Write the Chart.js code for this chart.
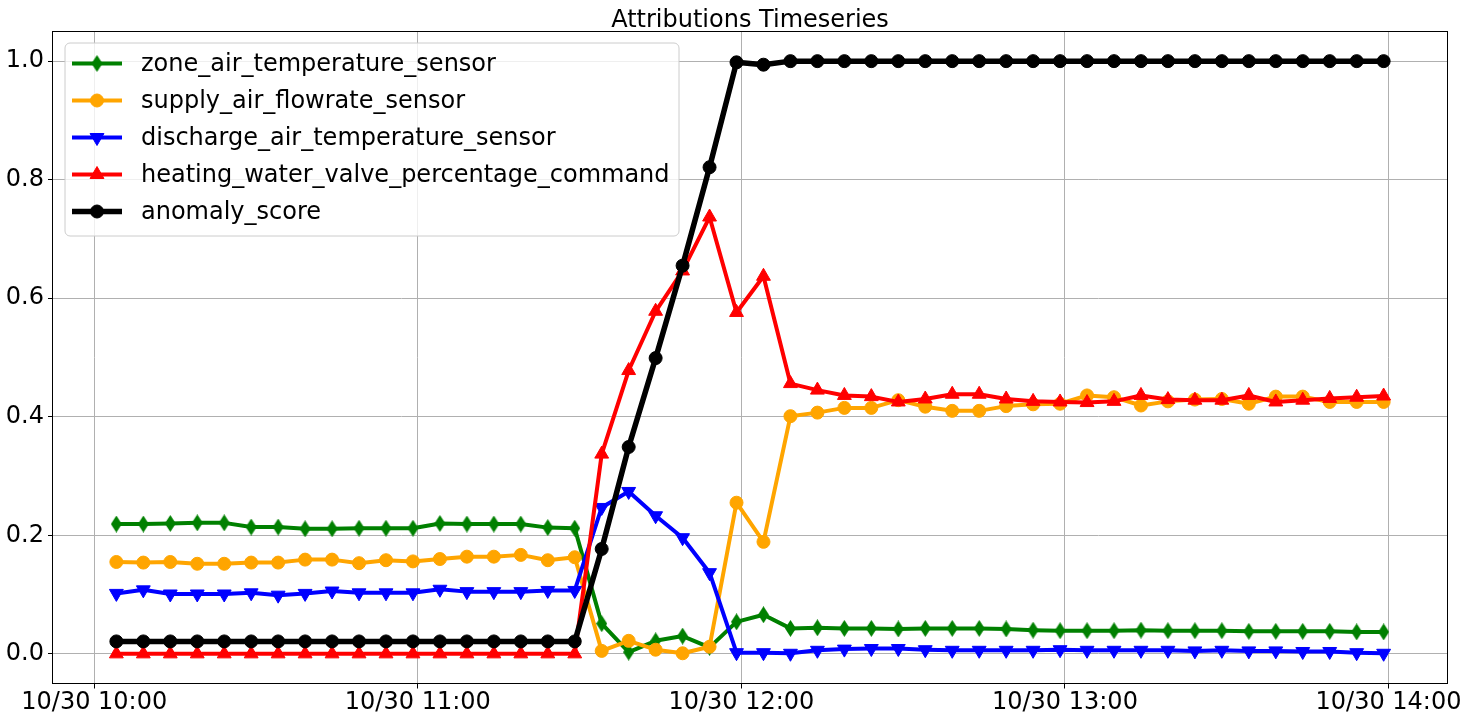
<!DOCTYPE html>
<html>
<head>
<meta charset="utf-8">
<script src="https://cdn.jsdelivr.net/npm/chart.js@4.4.1/dist/chart.umd.min.js"></script>
<style>
html,body{margin:0;padding:0;background:#fff;}
#wrap{width:1469px;height:722px;position:relative;}
</style>
</head>
<body>
<div id="wrap"><canvas id="c" width="1469" height="722"></canvas></div>
<script>
// ---------------- data ----------------
const titleText = "Attributions Timeseries";
const dateLabel = "10/30";
const timeLabels = [
  "10:04:06","10:09:06","10:14:06","10:19:06","10:24:06","10:29:06","10:34:06","10:39:06",
  "10:44:06","10:49:06","10:54:06","10:59:06","11:04:06","11:09:06","11:14:06","11:19:06",
  "11:24:06","11:29:06","11:34:06","11:39:06","11:44:06","11:49:06","11:54:06","11:59:06",
  "12:04:06","12:09:06","12:14:06","12:19:06","12:24:06","12:29:06","12:34:06","12:39:06",
  "12:44:06","12:49:06","12:54:06","12:59:06","13:04:06","13:09:06","13:14:06","13:19:06",
  "13:24:06","13:29:06","13:34:06","13:39:06","13:44:06","13:49:06","13:54:06","13:59:06"
];
const xTickTimes = ["10:00","11:00","12:00","13:00","14:00"];
const yTickValues = [0.0, 0.2, 0.4, 0.6, 0.8, 1.0];

const seriesNames = [
  "zone_air_temperature_sensor",
  "supply_air_flowrate_sensor",
  "discharge_air_temperature_sensor",
  "heating_water_valve_percentage_command",
  "anomaly_score"
];

const zoneAirTemperature = [
  0.219,0.219,0.220,0.221,0.221,0.214,0.214,0.211,0.211,0.212,0.212,0.212,
  0.220,0.219,0.219,0.219,0.213,0.212,0.051,0.003,0.022,0.030,0.011,0.054,
  0.066,0.043,0.044,0.043,0.043,0.042,0.043,0.043,0.043,0.042,0.040,0.039,
  0.039,0.039,0.040,0.039,0.039,0.039,0.038,0.038,0.038,0.038,0.037,0.037
];
const supplyAirFlowrate = [
  0.155,0.154,0.155,0.152,0.152,0.154,0.154,0.159,0.159,0.153,0.158,0.156,
  0.160,0.164,0.164,0.167,0.158,0.163,0.005,0.022,0.007,0.001,0.012,0.255,
  0.189,0.401,0.407,0.415,0.415,0.428,0.417,0.410,0.410,0.418,0.421,0.422,
  0.436,0.433,0.419,0.426,0.429,0.430,0.422,0.434,0.434,0.425,0.425,0.425
];
const dischargeAirTemperature = [
  0.102,0.108,0.101,0.101,0.101,0.103,0.099,0.102,0.106,0.103,0.103,0.103,
  0.109,0.105,0.105,0.105,0.107,0.107,0.247,0.274,0.233,0.196,0.137,0.002,
  0.002,0.001,0.006,0.008,0.009,0.009,0.007,0.006,0.006,0.006,0.006,0.007,
  0.006,0.006,0.006,0.006,0.005,0.006,0.005,0.005,0.004,0.004,0.002,0.001
];
const heatingWaterValve = [
  0,0,0,0,0,0,0,0,0,0,0,0,
  0,0,0,0,0,0,0.337,0.478,0.578,0.646,0.737,0.576,
  0.637,0.456,0.445,0.436,0.434,0.425,0.430,0.438,0.438,0.430,0.426,0.425,
  0.424,0.426,0.436,0.429,0.428,0.428,0.436,0.425,0.428,0.431,0.433,0.435
];
const anomalyScore = [
  0.021,0.021,0.021,0.021,0.021,0.021,0.021,0.021,0.021,0.021,0.021,0.021,
  0.021,0.021,0.021,0.021,0.021,0.021,0.177,0.349,0.499,0.655,0.821,0.998,
  0.994,1.0,1.0,1.0,1.0,1.0,1.0,1.0,1.0,1.0,1.0,1.0,
  1.0,1.0,1.0,1.0,1.0,1.0,1.0,1.0,1.0,1.0,1.0,1.0
];

// ---------------- helpers ----------------
const FONT = '"DejaVu Sans", "Liberation Sans", sans-serif';
function toMin(t){ const p = t.split(":").map(Number); return p[0]*60 + p[1] + (p[2]||0)/60; }
function fmtHM(m){ const h = Math.floor(m/60), mm = Math.round(m - h*60); return String(h).padStart(2,"0")+":"+String(mm).padStart(2,"0"); }
const xs = timeLabels.map(toMin);
const span = xs[xs.length-1] - xs[0];
const xMin = xs[0] - 0.05*span, xMax = xs[xs.length-1] + 0.05*span;
function pts(arr){ return arr.map((v,i)=>({x: xs[i], y: v})); }

function thinDiamond(color, w, h){
  const c = document.createElement('canvas'); c.width = w; c.height = h;
  const g = c.getContext('2d');
  g.fillStyle = color;
  g.beginPath(); g.moveTo(w/2,0); g.lineTo(w,h/2); g.lineTo(w/2,h); g.lineTo(0,h/2); g.closePath(); g.fill();
  return c;
}
const diamondImg = thinDiamond('#008000', 11, 17);

const styles = [
  {color:'#008000', marker:'diamond', width:4, order:5, radius:8, rot:0},
  {color:'#FFA500', marker:'circle',  width:4, order:4, radius:6.5, rot:0},
  {color:'#0000FF', marker:'triangle',width:4, order:3, radius:8, rot:180},
  {color:'#FF0000', marker:'triangle',width:4, order:2, radius:8, rot:0},
  {color:'#000000', marker:'circle',  width:5.5, order:1, radius:6.5, rot:0}
];
const seriesValues = [zoneAirTemperature, supplyAirFlowrate, dischargeAirTemperature, heatingWaterValve, anomalyScore];

const datasets = seriesNames.map((name,i)=>{
  const s = styles[i];
  return {
    label: name,
    data: pts(seriesValues[i]),
    borderColor: s.color,
    backgroundColor: s.color,
    borderWidth: s.width,
    borderJoinStyle: 'round',
    pointStyle: s.marker === 'diamond' ? diamondImg : s.marker,
    pointRadius: s.radius,
    pointHoverRadius: s.radius,
    pointRotation: s.rot,
    pointBorderWidth: 1,
    pointBackgroundColor: s.color,
    pointBorderColor: s.color,
    tension: 0,
    order: s.order,
    fill: false
  };
});

function drawMarker(ctx, s, x, y){
  ctx.save();
  ctx.fillStyle = s.color; ctx.strokeStyle = s.color; ctx.lineWidth = 1;
  if (s.marker === 'diamond') {
    ctx.drawImage(diamondImg, x - diamondImg.width/2, y - diamondImg.height/2);
  } else if (s.marker === 'circle') {
    ctx.beginPath(); ctx.arc(x, y, s.radius, 0, Math.PI*2); ctx.fill(); ctx.stroke();
  } else {
    let rad = s.rot * Math.PI/180;
    ctx.beginPath();
    for (let k=0;k<3;k++){
      const px = x + Math.sin(rad)*s.radius, py = y - Math.cos(rad)*s.radius;
      if (k===0) ctx.moveTo(px,py); else ctx.lineTo(px,py);
      rad += 2*Math.PI/3;
    }
    ctx.closePath(); ctx.fill(); ctx.stroke();
  }
  ctx.restore();
}

const decorPlugin = {
  id: 'decor',
  afterDraw(chart){
    const ctx = chart.ctx, a = chart.chartArea;
    // frame (spines)
    ctx.save();
    ctx.strokeStyle = '#000'; ctx.lineWidth = 1;
    ctx.strokeRect(Math.round(a.left)-0.5, a.top, Math.round(a.right)-Math.round(a.left)+1, a.bottom - a.top);
    ctx.restore();
    // title
    ctx.save();
    ctx.font = '24px ' + FONT; ctx.fillStyle = '#000';
    ctx.textAlign = 'center'; ctx.textBaseline = 'alphabetic';
    ctx.fillText(titleText, (a.left + a.right)/2, 26.7);
    ctx.restore();
    // legend
    const bx = 65, by = 43, bw = 614, bh = 193, r = 5;
    ctx.save();
    ctx.beginPath();
    ctx.moveTo(bx+r, by); ctx.lineTo(bx+bw-r, by); ctx.arcTo(bx+bw, by, bx+bw, by+r, r);
    ctx.lineTo(bx+bw, by+bh-r); ctx.arcTo(bx+bw, by+bh, bx+bw-r, by+bh, r);
    ctx.lineTo(bx+r, by+bh); ctx.arcTo(bx, by+bh, bx, by+bh-r, r);
    ctx.lineTo(bx, by+r); ctx.arcTo(bx, by, bx+r, by, r); ctx.closePath();
    ctx.fillStyle = 'rgba(255,255,255,0.8)'; ctx.fill();
    ctx.strokeStyle = '#cccccc'; ctx.lineWidth = 1; ctx.stroke();
    ctx.restore();
    chart.data.datasets.forEach((ds, i)=>{
      const s = styles[i];
      const y = 63.5 + i*37;
      ctx.save();
      ctx.strokeStyle = s.color; ctx.lineWidth = s.width; ctx.lineCap = 'butt';
      ctx.beginPath(); ctx.moveTo(72, y); ctx.lineTo(122, y); ctx.stroke();
      ctx.restore();
      drawMarker(ctx, s, 97, y);
      ctx.save();
      ctx.font = '24px ' + FONT; ctx.fillStyle = '#000';
      ctx.textAlign = 'left'; ctx.textBaseline = 'middle';
      ctx.fillText(ds.label, 141, y + 1);
      ctx.restore();
    });
  }
};

new Chart(document.getElementById('c'), {
  type: 'line',
  data: { datasets },
  options: {
    responsive: false,
    animation: false,
    events: [],
    layout: { padding: { top: 31.5, right: 22, left: 0, bottom: 0 } },
    plugins: { legend: { display: false }, title: { display: false }, tooltip: { enabled: false } },
    scales: {
      x: {
        type: 'linear', min: xMin, max: xMax,
        afterBuildTicks: s => { s.ticks = xTickTimes.map(t => ({ value: toMin(t) })); },
        afterFit: s => { s.height = 38.5; },
        ticks: {
          callback: v => dateLabel + ' ' + fmtHM(v),
          font: { family: FONT, size: 24 }, color: '#000',
          padding: 0, autoSkip: false, maxRotation: 0, minRotation: 0
        },
        grid: { color: '#b0b0b0', lineWidth: 1, tickColor: '#000', tickLength: 5, tickWidth: 1 },
        border: { display: false }
      },
      y: {
        type: 'linear', min: -0.05, max: 1.05,
        afterBuildTicks: s => { s.ticks = yTickValues.map(v => ({ value: v })); },
        afterFit: s => { s.width = 53; },
        ticks: {
          callback: v => Number(v).toFixed(1),
          font: { family: FONT, size: 24 }, color: '#000', padding: 4
        },
        grid: { color: '#b0b0b0', lineWidth: 1, tickColor: '#000', tickLength: 5, tickWidth: 1 },
        border: { display: false }
      }
    }
  },
  plugins: [decorPlugin]
});
</script>
</body>
</html>
